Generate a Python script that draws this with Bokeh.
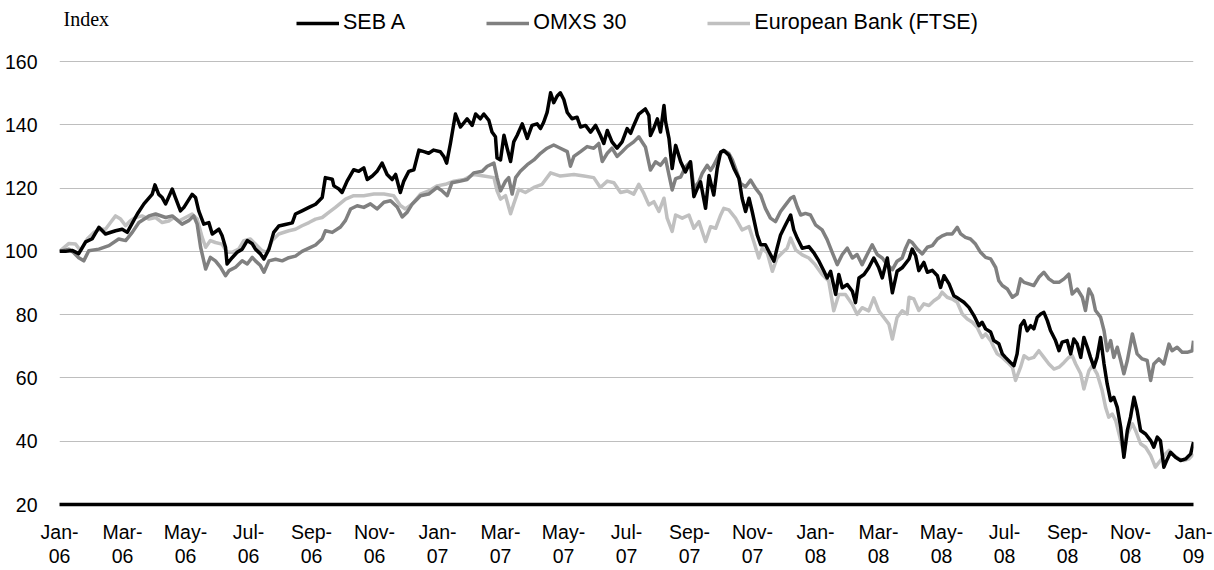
from bokeh.plotting import figure
from bokeh.models import (ColumnDataSource, Range1d, FixedTicker, Legend, LegendItem, Label)
from bokeh.embed import file_html
from bokeh.resources import INLINE

# x = months since 1 Jan 2006, y = index (start = 100)
seb_a = [(0.00,100.0),(0.19,100.0),(0.40,100.3),(0.61,99.3),(0.83,103.0),(1.04,104.0),(1.25,107.6),(1.46,105.5),(1.78,106.5),(1.99,107.0),(2.15,106.0),(2.47,111.8),(2.68,115.0),(2.94,118.0),(3.03,121.0),(3.15,118.0),(3.26,117.0),(3.37,115.0),(3.58,119.7),(3.68,117.0),(3.84,112.8),(3.95,113.9),(4.21,118.0),(4.32,117.0),(4.42,112.8),(4.58,108.6),(4.74,109.1),(4.85,105.5),(5.06,107.0),(5.16,105.0),(5.27,101.3),(5.32,96.0),(5.48,98.0),(5.64,99.7),(5.80,100.7),(5.96,103.4),(6.12,102.4),(6.22,100.7),(6.38,99.2),(6.49,97.6),(6.65,100.7),(6.80,106.0),(6.96,108.0),(7.17,108.5),(7.39,109.0),(7.49,111.8),(7.70,112.8),(7.92,113.9),(8.13,114.9),(8.34,117.0),(8.44,123.3),(8.66,122.8),(8.71,120.7),(8.87,119.7),(8.97,118.6),(9.13,122.2),(9.34,125.8),(9.50,125.3),(9.66,126.4),(9.77,122.7),(9.93,123.8),(10.08,125.3),(10.24,127.9),(10.40,124.3),(10.56,122.7),(10.67,124.3),(10.82,118.6),(10.93,122.2),(11.09,125.3),(11.25,125.8),(11.41,132.0),(11.57,131.5),(11.72,131.0),(11.88,132.0),(12.09,131.5),(12.20,130.0),(12.29,127.9),(12.41,134.1),(12.57,143.4),(12.73,139.3),(12.94,141.9),(13.10,139.8),(13.21,143.4),(13.36,141.9),(13.47,143.4),(13.63,141.4),(13.73,137.7),(13.84,136.2),(13.89,129.5),(14.00,128.9),(14.11,136.7),(14.21,132.6),(14.32,128.4),(14.42,134.6),(14.53,136.7),(14.69,140.3),(14.85,135.7),(15.00,139.8),(15.16,140.3),(15.27,138.8),(15.37,140.8),(15.48,143.9),(15.59,150.1),(15.69,147.0),(15.80,149.1),(15.90,150.1),(16.01,148.0),(16.12,143.9),(16.27,141.9),(16.43,142.4),(16.54,139.3),(16.70,139.8),(16.86,137.7),(17.02,139.8),(17.17,136.7),(17.28,134.1),(17.39,138.2),(17.54,134.6),(17.70,132.6),(17.86,134.6),(18.02,138.8),(18.13,137.3),(18.23,139.8),(18.39,143.4),(18.60,145.0),(18.71,143.0),(18.76,136.6),(18.87,139.0),(18.98,141.9),(19.08,137.7),(19.19,146.1),(19.24,141.0),(19.35,135.6),(19.45,126.2),(19.56,133.5),(19.72,128.3),(19.87,125.1),(20.03,128.3),(20.14,117.3),(20.25,119.9),(20.35,122.0),(20.51,113.6),(20.62,124.0),(20.77,117.8),(20.88,126.2),(20.99,131.4),(21.09,131.9),(21.25,130.4),(21.41,126.2),(21.57,123.0),(21.67,116.8),(21.78,112.6),(21.89,116.8),(21.99,112.6),(22.15,105.2),(22.26,102.1),(22.41,102.1),(22.57,99.0),(22.68,96.9),(22.78,101.0),(22.89,105.2),(23.05,108.4),(23.21,111.5),(23.31,106.8),(23.42,104.2),(23.58,101.0),(23.79,101.5),(23.95,99.5),(24.11,96.9),(24.27,93.7),(24.37,91.6),(24.48,93.7),(24.64,86.4),(24.74,92.7),(24.85,88.5),(25.01,89.5),(25.17,87.4),(25.27,83.8),(25.38,91.6),(25.54,92.7),(25.69,94.8),(25.85,97.9),(26.01,94.8),(26.12,91.6),(26.28,97.9),(26.44,86.9),(26.59,93.7),(26.75,94.8),(26.97,97.6),(27.07,100.7),(27.18,98.6),(27.28,93.9),(27.44,96.5),(27.55,93.4),(27.71,94.0),(27.87,92.3),(27.97,88.6),(28.08,92.3),(28.24,89.7),(28.39,86.0),(28.55,85.0),(28.71,83.9),(28.87,82.3),(29.03,79.7),(29.19,76.5),(29.29,77.6),(29.40,75.5),(29.56,74.5),(29.66,71.8),(29.82,70.8),(29.93,67.6),(30.03,66.5),(30.19,64.9),(30.30,63.9),(30.40,67.6),(30.51,76.5),(30.62,78.1),(30.72,74.9),(30.83,76.5),(30.93,75.5),(31.04,79.2),(31.15,80.2),(31.25,80.7),(31.36,78.1),(31.46,75.0),(31.62,71.8),(31.73,68.6),(31.83,71.3),(31.99,71.8),(32.10,67.6),(32.20,72.3),(32.31,70.7),(32.42,66.5),(32.52,72.8),(32.63,69.7),(32.73,66.5),(32.84,63.4),(32.94,66.5),(33.05,72.8),(33.16,64.4),(33.26,58.1),(33.37,52.8),(33.47,53.9),(33.58,50.7),(33.69,44.4),(33.79,34.9),(33.90,43.4),(34.00,47.6),(34.11,53.9),(34.21,49.7),(34.32,43.4),(34.48,42.3),(34.64,40.2),(34.74,38.1),(34.85,41.3),(34.95,40.2),(35.06,31.8),(35.17,34.4),(35.27,36.5),(35.43,34.9),(35.59,33.9),(35.75,34.4),(35.91,36.0),(36.00,39.7)]

omxs_30 = [(0.00,100.0),(0.30,100.7),(0.46,99.5),(0.61,98.0),(0.77,97.0),(0.93,100.2),(1.25,100.7),(1.57,101.8),(1.88,103.9),(2.10,103.4),(2.31,106.0),(2.52,109.1),(2.84,111.2),(3.05,111.8),(3.37,110.7),(3.58,111.2),(3.89,108.6),(4.10,109.7),(4.26,111.2),(4.37,108.6),(4.48,101.3),(4.58,97.0),(4.64,94.4),(4.79,98.1),(4.95,97.0),(5.11,95.0),(5.27,92.3),(5.38,93.9),(5.59,95.0),(5.80,97.0),(5.96,96.0),(6.12,98.1),(6.22,97.0),(6.38,95.5),(6.49,93.4),(6.65,97.0),(6.86,97.5),(7.07,97.0),(7.28,98.0),(7.49,98.5),(7.70,100.0),(7.92,101.0),(8.13,102.0),(8.34,104.0),(8.44,106.5),(8.66,106.0),(8.92,107.7),(9.08,109.8),(9.24,113.4),(9.45,114.4),(9.66,113.9),(9.87,115.0),(10.08,113.4),(10.30,115.5),(10.51,116.0),(10.72,114.0),(10.88,110.9),(11.04,112.4),(11.20,115.0),(11.46,117.6),(11.72,118.1),(11.99,120.2),(12.15,119.1),(12.31,117.6),(12.46,121.7),(12.73,122.2),(12.94,122.7),(13.15,124.8),(13.42,125.3),(13.58,126.9),(13.79,127.9),(13.89,123.3),(14.00,119.1),(14.16,122.2),(14.26,123.3),(14.37,118.1),(14.48,123.3),(14.63,125.3),(14.85,127.4),(15.06,128.9),(15.27,131.0),(15.48,132.6),(15.69,133.6),(15.90,132.6),(16.12,131.5),(16.22,126.9),(16.33,130.0),(16.54,131.5),(16.75,133.1),(16.96,132.6),(17.12,134.1),(17.23,128.4),(17.39,131.0),(17.54,132.6),(17.70,130.0),(17.86,131.5),(18.02,133.1),(18.23,134.6),(18.39,136.2),(18.50,134.5),(18.60,133.0),(18.76,125.7),(18.92,128.3),(19.08,127.2),(19.24,129.3),(19.35,124.1),(19.45,119.4),(19.56,123.0),(19.72,123.5),(19.87,126.7),(20.03,128.3),(20.14,119.9),(20.30,122.0),(20.40,124.6),(20.56,127.2),(20.67,125.6),(20.77,127.2),(20.93,130.4),(21.09,131.9),(21.25,130.9),(21.36,128.9),(21.52,124.6),(21.62,121.5),(21.78,120.4),(21.94,122.5),(22.10,119.9),(22.26,117.8),(22.41,113.6),(22.57,110.5),(22.73,109.4),(22.89,112.6),(23.05,114.7),(23.21,116.8),(23.31,117.3),(23.42,114.1),(23.53,111.5),(23.68,112.0),(23.84,111.5),(24.00,108.4),(24.21,106.8),(24.37,103.7),(24.53,99.7),(24.69,95.8),(24.85,99.0),(25.01,101.0),(25.17,97.9),(25.32,99.0),(25.48,95.8),(25.64,99.0),(25.80,102.1),(25.96,99.0),(26.12,97.9),(26.28,95.8),(26.44,94.2),(26.59,96.9),(26.75,97.9),(26.86,101.0),(26.97,103.4),(27.07,102.8),(27.23,100.7),(27.39,99.2),(27.55,101.3),(27.71,101.8),(27.87,103.9),(28.02,104.9),(28.18,105.5),(28.34,105.5),(28.50,107.6),(28.61,105.5),(28.76,104.4),(28.92,103.9),(29.08,102.3),(29.24,99.7),(29.40,98.1),(29.56,97.6),(29.72,94.9),(29.82,90.7),(29.93,89.2),(30.09,88.1),(30.25,85.5),(30.40,86.5),(30.51,91.3),(30.62,90.2),(30.77,89.7),(30.93,89.2),(31.09,91.8),(31.25,93.4),(31.41,91.3),(31.57,90.2),(31.73,90.2),(31.89,91.3),(32.04,92.8),(32.15,86.5),(32.31,88.1),(32.47,85.5),(32.57,81.3),(32.68,88.1),(32.79,86.0),(32.89,81.3),(33.05,79.2),(33.16,74.9),(33.26,68.6),(33.37,71.8),(33.47,66.5),(33.58,69.7),(33.69,65.5),(33.79,61.3),(33.90,65.5),(34.06,73.9),(34.21,67.6),(34.37,66.0),(34.53,65.5),(34.64,59.2),(34.74,64.4),(34.90,66.0),(35.06,64.4),(35.22,70.7),(35.32,68.6),(35.48,69.7),(35.64,68.1),(35.80,68.1),(35.96,68.6),(36.00,71.8)]

european_bank = [(0.00,100.0),(0.30,102.5),(0.51,102.3),(0.67,100.2),(0.88,103.9),(1.09,106.0),(1.30,107.0),(1.46,107.0),(1.62,109.1),(1.78,111.2),(1.94,110.2),(2.10,108.1),(2.25,109.7),(2.41,110.7),(2.62,111.2),(2.84,110.2),(3.05,110.7),(3.26,109.1),(3.47,109.6),(3.63,110.7),(3.79,109.6),(4.00,110.7),(4.21,111.8),(4.37,110.2),(4.53,104.4),(4.64,101.3),(4.79,103.4),(4.95,102.8),(5.16,102.3),(5.32,99.7),(5.48,99.7),(5.69,100.7),(5.85,103.4),(6.06,103.9),(6.22,102.3),(6.43,100.2),(6.59,99.7),(6.75,103.4),(6.96,105.5),(7.28,106.5),(7.49,107.0),(7.70,108.1),(7.92,109.1),(8.13,110.2),(8.34,110.7),(8.55,112.3),(8.76,113.9),(9.08,116.5),(9.34,117.6),(9.66,117.6),(9.98,118.1),(10.30,118.1),(10.61,117.6),(10.82,114.5),(10.98,113.4),(11.20,115.0),(11.46,118.1),(11.72,119.1),(11.99,120.7),(12.25,121.2),(12.52,122.2),(12.84,122.7),(13.15,124.3),(13.47,123.8),(13.79,123.3),(13.89,119.1),(14.00,116.5),(14.16,117.6),(14.32,111.9),(14.42,115.0),(14.58,119.6),(14.79,118.6),(15.06,120.2),(15.32,121.2),(15.59,124.8),(15.90,123.8),(16.33,124.3),(16.65,123.8),(16.96,123.3),(17.17,120.2),(17.39,122.2),(17.60,121.7),(17.81,118.6),(18.02,119.1),(18.23,118.1),(18.39,121.2),(18.55,118.3),(18.71,114.7),(18.87,115.7),(19.03,112.6),(19.19,116.8),(19.29,110.5),(19.45,106.3),(19.56,111.5),(19.77,110.5),(19.98,111.5),(20.14,107.3),(20.30,109.4),(20.51,103.1),(20.67,107.8),(20.83,107.3),(20.99,111.5),(21.09,113.6),(21.25,113.1),(21.46,110.5),(21.67,106.8),(21.89,107.8),(22.04,103.1),(22.20,97.9),(22.31,101.0),(22.47,99.5),(22.63,93.7),(22.78,97.9),(22.94,99.5),(23.10,101.0),(23.21,104.2),(23.37,100.5),(23.58,98.9),(23.79,97.9),(23.99,95.8),(24.21,92.7),(24.42,90.6),(24.58,81.2),(24.74,86.4),(24.95,86.4),(25.17,83.2),(25.32,80.1),(25.48,82.2),(25.69,81.2),(25.85,85.3),(26.01,81.2),(26.17,79.1),(26.33,77.0),(26.44,72.3),(26.59,79.1),(26.75,81.2),(26.91,80.2),(26.97,85.5),(27.12,85.0),(27.28,81.3),(27.44,83.4),(27.60,82.9),(27.76,84.4),(27.92,85.5),(28.02,87.1),(28.18,85.5),(28.34,84.9),(28.50,83.9),(28.66,80.2),(28.82,78.6),(28.98,77.6),(29.13,76.0),(29.29,72.8),(29.40,73.9),(29.56,71.8),(29.66,69.7),(29.77,67.6),(29.93,66.5),(30.09,65.0),(30.25,63.4),(30.35,59.2),(30.51,63.4),(30.62,67.0),(30.77,66.0),(30.93,66.5),(31.09,68.6),(31.25,66.5),(31.41,64.4),(31.57,62.8),(31.73,63.4),(31.89,64.9),(32.04,66.5),(32.15,67.0),(32.26,64.4),(32.42,61.3),(32.52,56.5),(32.68,62.3),(32.79,63.9),(32.94,61.3),(33.10,56.0),(33.21,50.7),(33.31,47.6),(33.42,48.6),(33.53,46.5),(33.69,40.2),(33.79,36.0),(33.90,42.3),(34.06,45.5),(34.16,43.4),(34.32,39.2),(34.48,38.1),(34.64,35.5),(34.79,31.8),(34.95,33.9),(35.11,36.0),(35.22,37.1),(35.38,35.5),(35.54,34.4),(35.70,33.9),(35.85,34.4),(36.00,36.0)]

series_names = ["SEB A", "OMXS 30", "European Bank (FTSE)"]
tick_months = list(range(0, 37, 2))
tick_labels = ["Jan-\n06", "Mar-\n06", "May-\n06", "Jul-\n06", "Sep-\n06", "Nov-\n06",
               "Jan-\n07", "Mar-\n07", "May-\n07", "Jul-\n07", "Sep-\n07", "Nov-\n07",
               "Jan-\n08", "Mar-\n08", "May-\n08", "Jul-\n08", "Sep-\n08", "Nov-\n08", "Jan-\n09"]
y_ticks = [20, 40, 60, 80, 100, 120, 140, 160]
y_title = "Index"

FONT = "Liberation Sans"

# frame runs from the top of the canvas down to the 20 line; the area above 160
# holds the legend and the "Index" caption
p = figure(width=1214, height=570, output_backend="svg", toolbar_location=None,
           x_range=Range1d(0, 36), y_range=Range1d(20, 179.28),
           min_border_left=59, min_border_right=21, min_border_top=0, min_border_bottom=66,
           background_fill_color="white", border_fill_color="white")
p.outline_line_color = None

def src(pairs):
    return ColumnDataSource(dict(x=[a for a, b in pairs], y=[b for a, b in pairs]))

r_eur = p.line("x", "y", source=src(european_bank), line_color="#c0c0c0", line_width=3.5, line_join="round")
r_omx = p.line("x", "y", source=src(omxs_30), line_color="#808080", line_width=3.5, line_join="round")
r_seb = p.line("x", "y", source=src(seb_a), line_color="#000000", line_width=3.5, line_join="round")

# axes
xa = p.xaxis[0]
xa.ticker = FixedTicker(ticks=tick_months)
xa.major_label_overrides = {m: lab for m, lab in zip(tick_months, tick_labels)}
xa.axis_line_color = "black"
xa.axis_line_width = 3.5
xa.major_tick_line_color = None
xa.minor_tick_line_color = None
xa.major_label_text_font = FONT
xa.major_label_text_font_size = "19.5px"
xa.major_label_text_line_height = 1.1
xa.major_label_text_color = "black"
xa.major_label_standoff = 10

ya = p.yaxis[0]
ya.ticker = FixedTicker(ticks=y_ticks)
ya.axis_line_color = None
ya.major_tick_line_color = None
ya.minor_tick_line_color = None
ya.major_label_text_font = FONT
ya.major_label_text_font_size = "19.5px"
ya.major_label_text_color = "black"
ya.major_label_standoff = 16

p.xgrid.grid_line_color = None
p.ygrid.ticker = FixedTicker(ticks=y_ticks)
p.ygrid.grid_line_color = "#bebebe"
p.ygrid.grid_line_width = 1.2

legend = Legend(items=[LegendItem(label=series_names[0], renderers=[r_seb]),
                       LegendItem(label=series_names[1], renderers=[r_omx]),
                       LegendItem(label=series_names[2], renderers=[r_eur])],
                orientation="horizontal", location=(237, 469),
                glyph_width=43, glyph_height=24, label_height=24, label_standoff=4, spacing=81,
                padding=0, margin=0, border_line_color=None, background_fill_alpha=0,
                label_text_font=FONT, label_text_font_size="21.5px", label_text_color="black")
p.add_layout(legend, "center")

p.add_layout(Label(x=4, y=486, x_units="screen", y_units="screen", text=y_title,
                   text_font="Liberation Serif", text_font_size="20px",
                   text_baseline="alphabetic", text_color="black"))

open("out.html", "w").write(file_html(p, INLINE))
